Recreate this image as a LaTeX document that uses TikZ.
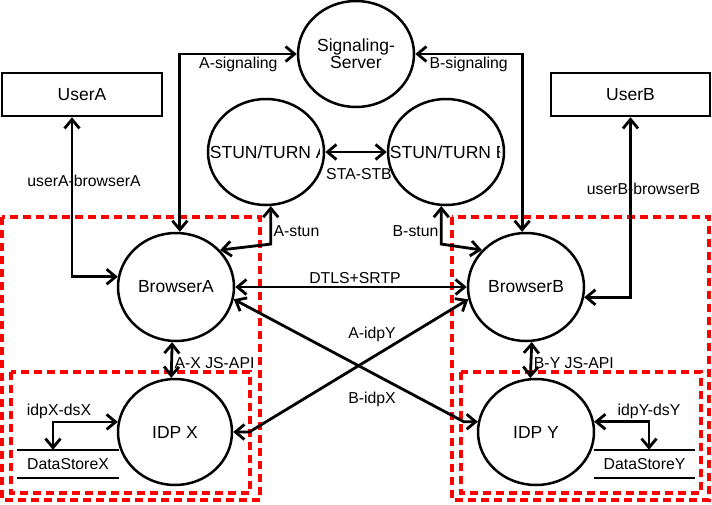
\documentclass[tikz,border=0pt]{standalone}
\usepackage{fontspec}
\setmainfont{Liberation Sans}
\usetikzlibrary{shapes.geometric, arrows.meta, calc}
\tikzset{
  srv/.style={
    ellipse, draw, line width=2.5pt,
    minimum width=116pt, minimum height=106pt, inner sep=0pt,
    align=center, font=\fontsize{17.5}{17}\selectfont
  },
  usr/.style={
    rectangle, draw, line width=2.5pt,
    minimum height=43pt, inner sep=0pt,
    font=\fontsize{17.5}{20}\selectfont
  },
  store/.style={
    minimum width=102pt, minimum height=28pt, inner sep=0pt,
    font=\fontsize{15.8}{18}\selectfont
  },
  lbl/.style={
    inner sep=1.5pt, font=\fontsize{15.8}{18}\selectfont
  },
  srvtext/.style={
    anchor=west, inner sep=0pt, font=\fontsize{17.5}{20}\selectfont
  },
  link/.style={
    line width=2.8pt, <->
  },
  zone/.style={
    draw=red, line width=3.6pt, dash pattern=on 8pt off 5pt
  }
}

\begin{document}
\begin{tikzpicture}[x=1pt, y=-1pt, >={Straight Barb[length=9pt, width=15pt]}]
  \useasboundingbox (0,0) rectangle (712,504);
  % trust zones
  \draw[zone] (2,217) rectangle (260,500);
  \draw[zone] (11,372) rectangle (250,493);
  \draw[zone] (452,217) rectangle (709,500);
  \draw[zone] (461,372) rectangle (701,493);
  % servers
  \node[srv] (sig) at (356,54) {Signaling-\\Server};
  \node[srv] (stuna) at (266,152) {};
  \node[srv] (stunb) at (446,152) {};
  % the stun texts run past the ellipse and are cut off
  \begin{scope}
    \clip ([xshift=-2pt]stuna.center) ellipse [x radius=56pt, y radius=52pt];
    \node[srvtext] (stunatext) at ([xshift=3pt]stuna.west) {STUN/TURN A};
  \end{scope}
  \begin{scope}
    \clip ([xshift=-2pt]stunb.center) ellipse [x radius=56pt, y radius=52pt];
    \node[srvtext] (stunbtext) at ([xshift=3pt]stunb.west) {STUN/TURN B};
  \end{scope}
  % users, browsers, idps
  \node[usr, minimum width=160pt] (usera) at (82,94.5) {UserA};
  \node[usr, minimum width=159pt] (userb) at (630.5,94.5) {UserB};
  \node[srv, minimum height=108pt] (bra) at (176,287) {BrowserA};
  \node[srv, minimum height=108pt] (brb) at (526,287) {BrowserB};
  \node[srv, minimum width=114pt] (idpx) at (175,432) {IDP X};
  \node[srv] (idpy) at (536,432) {IDP Y};
  \node[store] (dsx) at (68,464) {DataStoreX};
  \node[store, minimum width=101pt] (dsy) at (644.5,464) {DataStoreY};
  \draw[line width=2.5pt] (dsx.north west) -- (dsx.north east) (dsx.south west) -- (dsx.south east);
  \draw[line width=2.5pt] (dsy.north west) -- (dsy.north east) (dsy.south west) -- (dsy.south east);
  % connections
  \draw[link] (bra.86) |- (sig.west) node[lbl, pos=0.75, below] {A-signaling};
  \draw[link] (sig.east) -| (brb.94) node[lbl, pos=0.25, below] {B-signaling};
  \draw[link] ([xshift=-10pt]usera.south) |- (bra.170) node[lbl, pos=0.2, xshift=12pt] {userA-browserA};
  \draw[link] (userb.south) |- (brb.-10) node[lbl, pos=0.2, xshift=13pt] {userB-browserB};
  \draw[link] (stuna.east) -- (stunb.west) node[lbl, midway, below=14pt, xshift=3pt] {STA-STB};
  \draw[link] (stuna.-85) -- ++(0,38) node[lbl, pos=0.65, right] {A-stun} -- (bra.40);
  \draw[link] (stunb.-95) -- ++(0,38) node[lbl, pos=0.65, left] {B-stun} -- (brb.140);
  \draw[link] (bra.east) -- (brb.west) node[lbl, midway, above, xshift=4pt] {DTLS+SRTP};
  \draw[link] (idpx.east) -- ++(16,0) -- (brb.-168);
  \draw[link] (bra.-12) -- ($(idpy.170)+(-14,0)$) -- (idpy.170);
  \node[lbl] (aidpy) at (372,334) {A-idpY};
  \node[lbl] (bidpx) at (372,399) {B-idpX};
  \draw[link] (bra.-94) -- (idpx.94) node[lbl, midway, right, yshift=-3pt] {A-X JS-API};
  \draw[link] (brb.-84) -- (idpy.96) node[lbl, midway, right, yshift=-3pt] {B-Y JS-API};
  \draw[link] (idpx.170) -| ([xshift=-15pt]dsx.north) node[lbl, pos=0.5, above, xshift=6pt] {idpX-dsX};
  \draw[link] (idpy.10) -| ([xshift=4.5pt]dsy.north) node[lbl, pos=0.5, above] {idpY-dsY};
\end{tikzpicture}
\end{document}
